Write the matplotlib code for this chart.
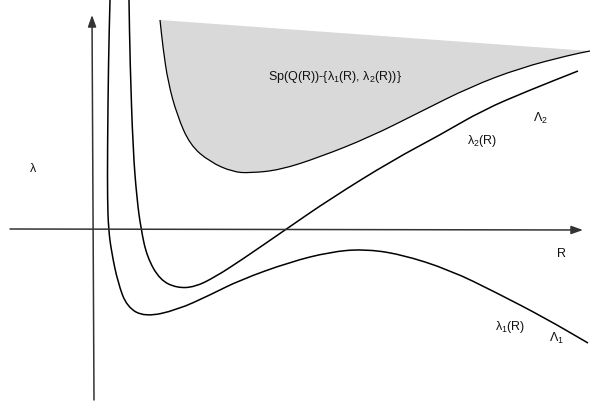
import matplotlib.pyplot as plt
from matplotlib.path import Path
from matplotlib.patches import PathPatch

plt.rcParams['font.family'] = ['Liberation Sans', 'DejaVu Sans']
plt.rcParams['mathtext.fontset'] = 'custom'
plt.rcParams['mathtext.rm'] = 'Liberation Sans'

# curva inferior lambda_1(R) (pixeles)
lam1_x = [110, 108.5, 107.5, 107.5, 108.5, 111.5, 118, 127, 145, 177, 210, 240, 290, 330, 363, 400, 450, 497, 545, 588]
lam1_y = [0, 60, 150, 200, 229, 252, 283, 307, 317, 310, 295, 280, 262, 252, 249, 254, 270, 293, 318, 343]

# curva del medio lambda_2(R)
lam2_x = [129, 130, 133, 137, 141, 147, 160, 177, 195, 215, 240, 285, 330, 393, 440, 483, 530, 578]
lam2_y = [0, 60, 150, 200, 229, 257, 280, 288, 287, 277, 261, 230, 199, 160, 135, 110, 90, 71]

# borde de la region sombreada Sp(Q(R))
shade_x = [160, 163, 168, 177, 190, 210, 233, 250, 280, 320, 370, 420, 470, 520, 570, 590]
shade_y = [20, 48, 82, 115, 145, 162, 172, 173, 170, 157, 137, 112, 87, 68, 55, 51]

# etiquetas
etiquetas = ['Sp(Q(R))-{λ$_1$(R), λ$_2$(R))}', 'λ$_2$(R)', 'Λ$_2$', 'λ$_1$(R)', 'Λ$_1$', 'λ', 'R']
etiq_x = [335, 482, 540, 510, 556, 33, 562]
etiq_y = [77, 141, 118, 327, 338, 169, 254]


def suave(xs, ys):
    # spline cuadratico por los puntos medios
    pts = list(zip(xs, ys))
    mid = lambda a, b: ((a[0] + b[0]) / 2, (a[1] + b[1]) / 2)
    verts = [pts[0], mid(pts[0], pts[1])]
    codes = [Path.MOVETO, Path.LINETO]
    for i in range(1, len(pts) - 1):
        verts += [pts[i], mid(pts[i], pts[i + 1])]
        codes += [Path.CURVE3, Path.CURVE3]
    verts.append(pts[-1])
    codes.append(Path.LINETO)
    return verts, codes


fig = plt.figure(figsize=(5.93, 4.08), dpi=100)
ax = fig.add_axes([0, 0, 1, 1])
ax.set_xlim(0, 593)
ax.set_ylim(408, 0)
ax.axis('off')

# region sombreada
v, c = suave(shade_x, shade_y)
v_rel = v + [(shade_x[0], shade_y[0])]
c_rel = c + [Path.LINETO]
ax.add_patch(PathPatch(Path(v_rel, c_rel), facecolor='#d9d9d9', edgecolor='none'))
ax.add_patch(PathPatch(Path(v, c), facecolor='none', edgecolor='black', lw=0.9))

# ejes
ax.annotate('', xy=(583, 230), xytext=(10, 229),
            arrowprops=dict(arrowstyle='-|>,head_length=0.7,head_width=0.25',
                            color='#333333', lw=1.1, shrinkA=0, shrinkB=0))
ax.annotate('', xy=(92, 15), xytext=(94, 400),
            arrowprops=dict(arrowstyle='-|>,head_length=0.7,head_width=0.25',
                            color='#333333', lw=1.1, shrinkA=0, shrinkB=0))

# curvas
for xs, ys in [(lam1_x, lam1_y), (lam2_x, lam2_y)]:
    v, c = suave(xs, ys)
    ax.add_patch(PathPatch(Path(v, c), facecolor='none', edgecolor='black', lw=1.1))

for t, x, y in zip(etiquetas, etiq_x, etiq_y):
    ax.text(x, y, t, fontsize=9, ha='center', va='center', color='#111111')

fig.savefig('out.png', dpi=100)
